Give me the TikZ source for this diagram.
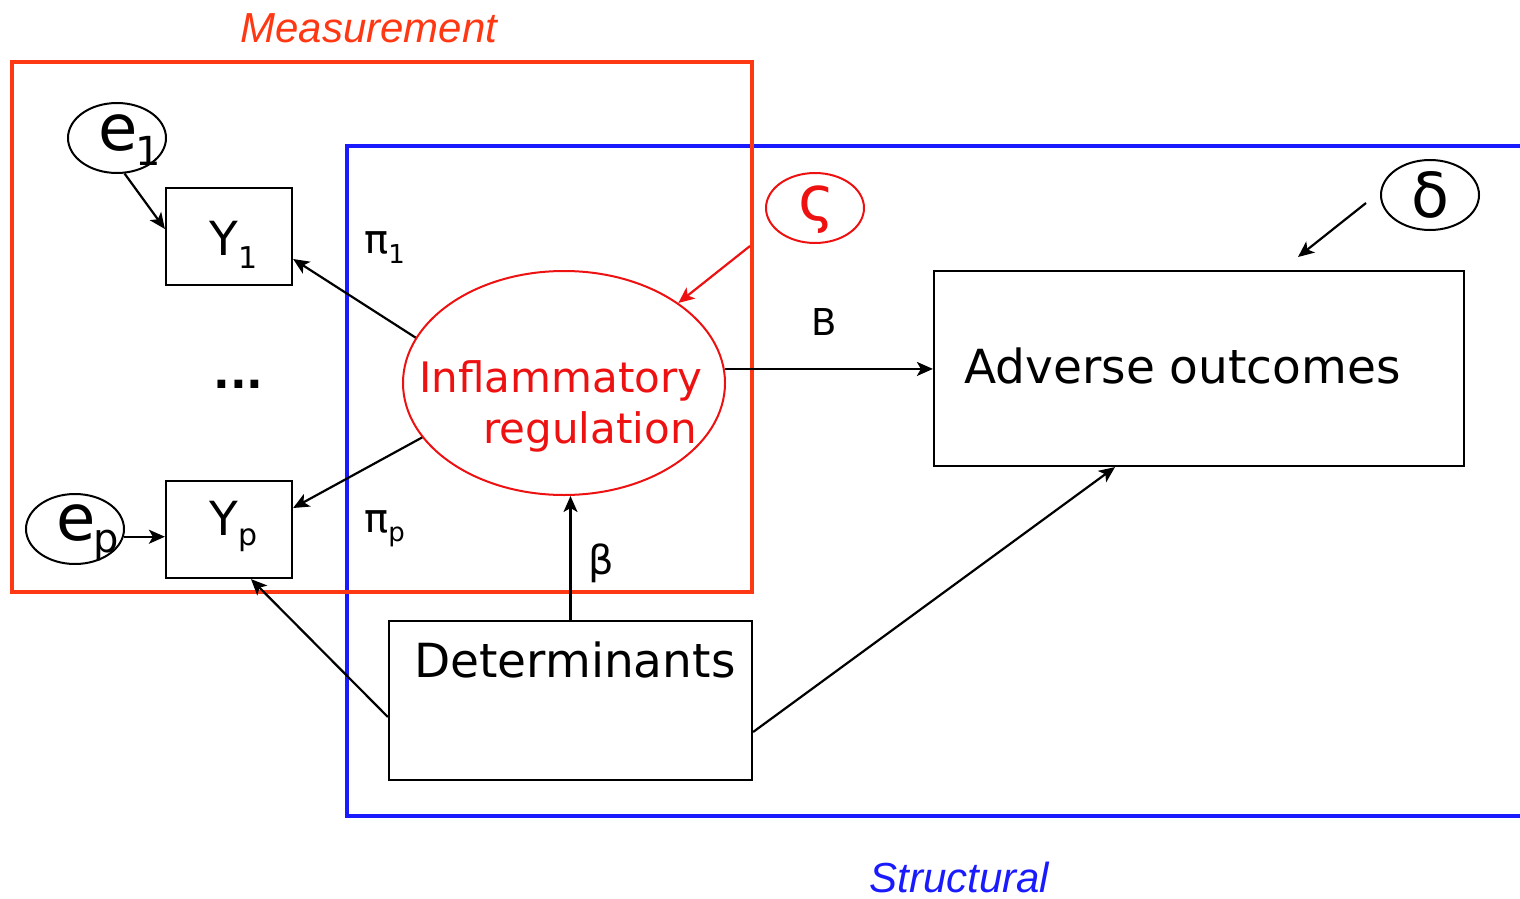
\documentclass[tikz,border=0pt]{standalone}
\usepackage{fontspec}
\setmainfont{DejaVu Sans}
\newfontfamily\labfont{Liberation Sans}
\usetikzlibrary{shapes.geometric,arrows.meta,calc}
\definecolor{mred}{HTML}{FF3814}
\definecolor{sblue}{HTML}{1A1AFF}
\definecolor{ired}{HTML}{EE1111}
\begin{document}
\begin{tikzpicture}[x=0.5pt,y=-0.5pt,
  box/.style={draw=black,line width=1.1pt,inner sep=0pt},
  oval/.style={draw,ellipse,line width=1pt,minimum width=49pt,minimum height=35pt,inner sep=0pt},
  arr/.style={-{Stealth[length=8pt,width=7pt,inset=2pt]},line width=1.1pt},
  frame/.style={line width=2pt},
  txt/.style={inner sep=0pt,anchor=base west},
  big/.style={font=\fontsize{23.5}{28}\selectfont},
  mid/.style={font=\fontsize{20}{24}\selectfont}
]
\useasboundingbox (0,0) rectangle (1520,899);
% frames
\draw[frame,sblue] (1524,146) -- (347,146) -- (347,816) -- (1524,816);
\draw[frame,mred] (12,62) rectangle (752,592);
\node[txt,text=mred,font=\labfont\itshape\fontsize{21}{25}\selectfont] (meas) at (240,43) {Measurement};
\node[txt,text=sblue,font=\labfont\itshape\fontsize{21}{25}\selectfont] (struc) at (869,892) {Structural};

% boxes
\node[box,minimum width=63pt,minimum height=48.5pt] (y1) at (229,236.5) {};
\node[box,minimum width=63pt,minimum height=48.5pt] (yp) at (229,529.5) {};
\node[box,minimum width=265pt,minimum height=97.5pt] (adv) at (1199,368.5) {};
\node[box,minimum width=181.5pt,minimum height=79.5pt] (det) at (570.5,700.5) {};

% ovals
\node[oval] (e1) at (117,138) {};
\node[oval] (ep) at (75,529) {};
\node[oval,draw=ired] (zeta) at (815,208) {};
\node[oval] (delta) at (1430,195) {};
\node[draw=ired,ellipse,line width=1pt,inner sep=0pt,minimum width=161pt,minimum height=112pt] (infl) at (564,383) {};

% texts
\node[txt] (e1t) at (98,150) {\fontsize{32}{32}\selectfont e\hspace{-1pt}\raisebox{-7.5pt}{\fontsize{20}{20}\selectfont 1}};
\node[txt] (ept) at (56,540) {\fontsize{32}{32}\selectfont e\hspace{-1pt}\raisebox{-6pt}{\fontsize{20}{20}\selectfont p}};
\node[txt,big] (y1t) at (209,255) {Y\raisebox{-6.5pt}{\fontsize{15}{15}\selectfont 1}};
\node[txt,big] (ypt) at (209,535) {Y\raisebox{-5pt}{\fontsize{15}{15}\selectfont p}};
\node[txt,big,font=\bfseries\fontsize{22}{26}\selectfont] (dots) at (213,388) {...};
\node[txt,text=ired,font=\fontsize{21}{25}\selectfont] (inf1) at (419,392) {Inflammatory};
\node[txt,text=ired,font=\fontsize{21}{25}\selectfont] (inf2) at (483,443) {regulation};
\node[txt,big] (advt) at (964,383) {Adverse outcomes};
\node[txt,big] (dett) at (414,677) {Determinants};
\node[txt,mid] (pi1) at (364,253) {π\raisebox{-5pt}{\fontsize{13}{13}\selectfont 1}};
\node[txt,mid] (pip) at (364,532) {π\raisebox{-4.5pt}{\fontsize{13}{13}\selectfont p}};
\node[txt,mid] (beta) at (588,574) {β};
\node[txt,font=\fontsize{18.5}{22}\selectfont] (bl) at (811,335) {B};
\node[txt,font=\fontsize{31}{35}\selectfont] (dl) at (1411,217) {δ};
\node[txt,text=ired,font=\fontsize{31}{35}\selectfont] (zl) at (798,220) {ς};

% connectors
\draw[arr] (e1.-78) -- ([yshift=3.75pt]y1.west);
\draw[arr] (ep.-9.5) -- (ep.-9.5 -| yp.west);
\draw[arr] (infl.163.8) -- ([yshift=-11.25pt]y1.east);
\draw[arr] (infl.201) -- ([yshift=10.75pt]yp.east);
\draw[arr] (infl.5) -- (infl.5 -| adv.west);
\draw[arr] (det.north) -- (infl.south -| det.north);
\draw[arr] ([yshift=-8.25pt]det.west) -- ([xshift=11pt]yp.south);
\draw[arr] ([yshift=-15.75pt]det.east) -- ([xshift=-42pt]adv.south);
\coordinate (zs) at (750,246);
\draw[arr,ired] (zs) -- (infl.35.3);
\coordinate (ds) at (1366,203);
\coordinate (de) at (1298,257);
\draw[arr] (ds) -- (de);
\end{tikzpicture}
\end{document}
